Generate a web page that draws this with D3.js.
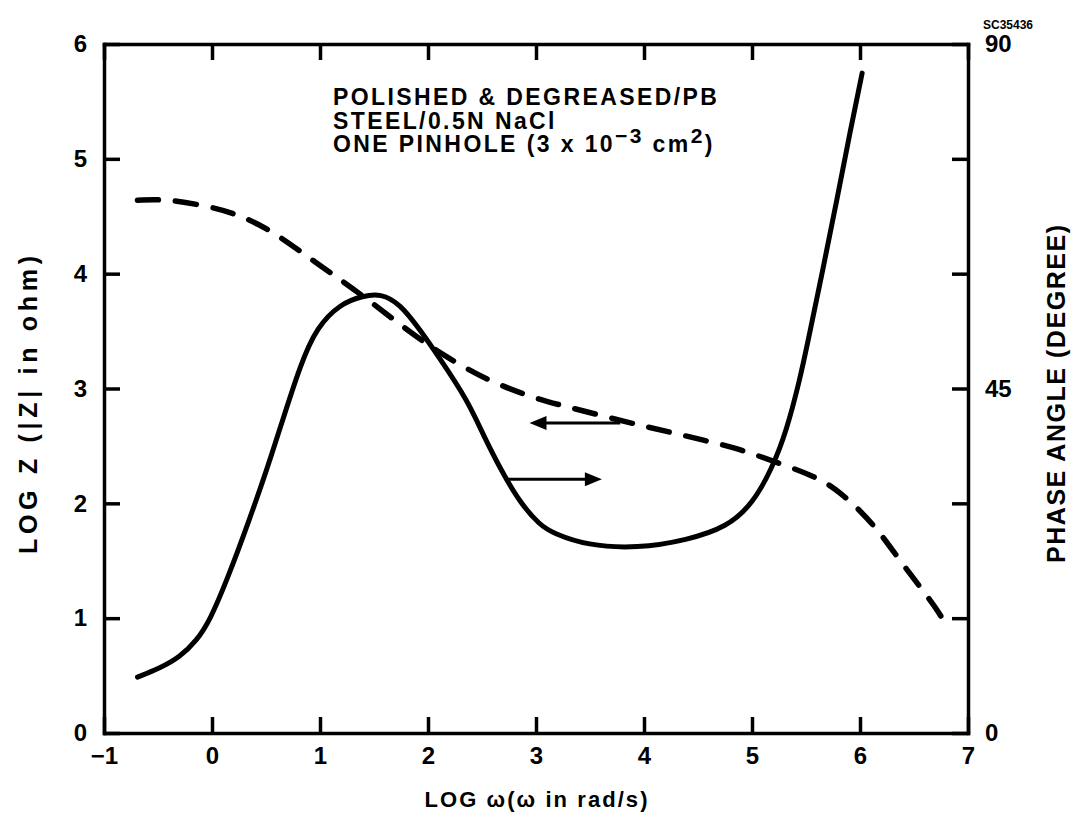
<!DOCTYPE html>
<html><head><meta charset="utf-8">
<script src="https://cdn.jsdelivr.net/npm/d3@7"></script>
<style>
body{margin:0;background:#fff}
svg{display:block}
text{font-family:"Liberation Sans",Arial,Helvetica,sans-serif;font-weight:bold;fill:#000}
</style></head><body>
<svg id="c" width="1074" height="829"></svg>
<script>
// ---- data ----
const xTicks = [-1,0,1,2,3,4,5,6,7];
const zTicks = [0,1,2,3,4,5,6];
const phaseTicks = [0,15,30,45,60,75,90];
const phaseLabelled = [0,45,90];

// log|Z| (dashed, left axis)
const zFreq = [-0.69,-0.42,-0.05,0.19,0.42,0.68,0.94,1.37,1.83,2.14,2.55,2.97,3.25,3.87,4.24,4.55,4.86,5.19,5.63,5.82,6.00,6.19,6.37,6.56,6.74,6.82];
const logZ  = [4.64,4.65,4.59,4.53,4.44,4.29,4.11,3.83,3.49,3.29,3.07,2.92,2.85,2.70,2.62,2.55,2.48,2.37,2.22,2.09,1.94,1.74,1.50,1.27,1.04,0.90];

// phase angle (solid, right axis)
const phFreq = [-0.69,-0.48,-0.30,-0.14,-0.02,0.14,0.35,0.51,0.63,0.82,0.97,1.19,1.40,1.56,1.74,1.93,2.11,2.36,2.51,2.67,2.85,3.04,3.16,3.47,3.94,4.40,4.77,5.01,5.19,5.32,5.44,5.51,5.66,5.79,5.91,6.02];
const phase  = [7.3,8.5,9.9,12.1,14.7,20.0,28.0,34.5,39.8,48.2,53.0,56.1,57.1,57.4,56.1,52.6,48.9,43.6,39.0,34.5,30.1,27.1,26.1,24.5,24.1,25.2,26.9,30.0,34.7,39.5,46.0,50.6,60.8,69.9,78.7,86.2];

// arrows (x from, x to, y in log Z units)
const arrowToZ = [3.78, 2.94, 2.70];
const arrowToPhase = [2.72, 3.61, 2.21];

const noteLines = ["POLISHED & DEGREASED/PB", "STEEL/0.5N NaCl"];

// ---- layout ----
const svg = d3.select("#c");
const x = d3.scaleLinear().domain([-1,7]).range([104,968]);
const yZ = d3.scaleLinear().domain([0,6]).range([733,44]);
const yP = d3.scaleLinear().domain([0,90]).range([733,44]);
const AW = 3.5;

function styleAxis(g, fs){
  g.select(".domain").attr("stroke","#000").attr("stroke-width",AW).attr("stroke-linecap","square");
  g.selectAll(".tick line").attr("stroke","#000").attr("stroke-width",AW);
  g.selectAll(".tick text").style("font-size",fs+"px").style("font-family",'"Liberation Sans",Arial,sans-serif').style("font-weight","bold").attr("fill","#000");
}

const gl = svg.append("g").attr("transform","translate(104,0)")
  .call(d3.axisLeft(yZ).tickValues(zTicks).tickFormat(d3.format("d")).tickSize(-16).tickSizeOuter(0).tickPadding(17));
styleAxis(gl,24);
const gr = svg.append("g").attr("transform","translate(968,0)")
  .call(d3.axisRight(yP).tickValues(phaseTicks).tickFormat(d=>phaseLabelled.includes(d)?d:"").tickSize(-16).tickSizeOuter(0).tickPadding(17));
styleAxis(gr,24);
const gb = svg.append("g").attr("transform","translate(0,733)")
  .call(d3.axisBottom(x).tickValues(xTicks).tickFormat(d=>d<0?"\u2212"+Math.abs(d):d).tickSize(-16).tickSizeOuter(0).tickPadding(14));
styleAxis(gb,24);
const gt = svg.append("g").attr("transform","translate(0,44)")
  .call(d3.axisTop(x).tickValues(xTicks).tickFormat("").tickSize(-16).tickSizeOuter(0));
styleAxis(gt,24);

// ---- curves ----
const lineZ = d3.line().x((d,i)=>x(zFreq[i])).y(d=>yZ(d)).curve(d3.curveBasis);
svg.append("path").attr("d",lineZ(logZ)).attr("fill","none").attr("stroke","#000")
  .attr("stroke-width",5.5).attr("stroke-dasharray","21,17").attr("stroke-linecap","round");

const lineP = d3.line().x((d,i)=>x(phFreq[i])).y(d=>yP(d)).curve(d3.curveBasis);
svg.append("path").attr("d",lineP(phase)).attr("fill","none").attr("stroke","#000")
  .attr("stroke-width",5).attr("stroke-linecap","round").attr("stroke-linejoin","round");

// ---- arrows ----
function arrow(a){
  const x1=x(a[0]), x2=x(a[1]), yy=yZ(a[2]);
  const dir = x2>x1?1:-1;
  svg.append("line").attr("x1",x1).attr("x2",x2-dir*12).attr("y1",yy).attr("y2",yy)
    .attr("stroke","#000").attr("stroke-width",3);
  svg.append("path").attr("d",`M${x2},${yy}L${x2-dir*17},${yy-7}L${x2-dir*17},${yy+7}Z`).attr("fill","#000");
}
arrow(arrowToZ);
arrow(arrowToPhase);

// ---- annotation text ----
const note = svg.append("g");
noteLines.forEach((t,i)=>{
  note.append("text").attr("x",333).attr("y",105+i*23.5).style("font-size","23px").style("letter-spacing","2.4px").text(t);
});
const l3 = note.append("text").attr("x",333).attr("y",152).style("font-size","23px").style("letter-spacing","2.4px");
l3.append("tspan").text("ONE PINHOLE (3 x 10");
l3.append("tspan").attr("dy",-9).style("font-size","21px").text("\u22123");
l3.append("tspan").attr("dy",9).text(" cm");
l3.append("tspan").attr("dy",-9).style("font-size","21px").text("2");
l3.append("tspan").attr("dy",9).text(")");

// ---- titles ----
svg.append("text").attr("x",536).attr("y",807).attr("text-anchor","middle")
  .attr("textLength",223).attr("lengthAdjust","spacing").style("font-size","22px").text("LOG \u03c9(\u03c9 in rad/s)");
svg.append("text").attr("transform","translate(37,405) rotate(-90)").attr("text-anchor","middle")
  .attr("textLength",298).attr("lengthAdjust","spacing").style("font-size","25px").text("LOG Z (|Z| in ohm)");
svg.append("text").attr("transform","translate(1065,394) rotate(-90)").attr("text-anchor","middle")
  .attr("textLength",338).attr("lengthAdjust","spacing").style("font-size","25px").text("PHASE ANGLE (DEGREE)");
svg.append("text").attr("x",1008).attr("y",29).attr("text-anchor","middle")
  .style("font-size","12px").text("SC35436");
</script>
</body></html>
